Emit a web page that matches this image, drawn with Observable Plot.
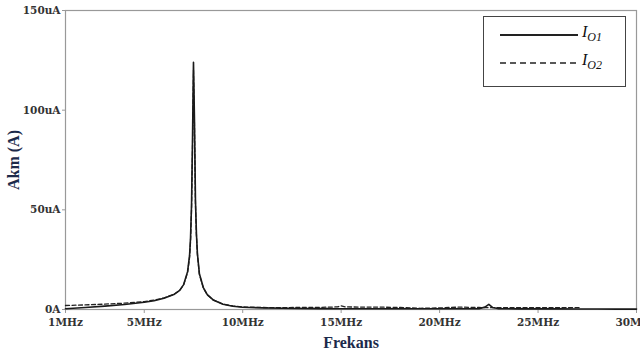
<!DOCTYPE html>
<html>
<head>
<meta charset="utf-8">
<script src="https://cdn.jsdelivr.net/npm/d3@7"></script>
<script src="https://cdn.jsdelivr.net/npm/@observablehq/plot@0.6"></script>
<style>
  body { margin: 0; background: #fff; }
  #wrap { position: relative; width: 640px; height: 354px; }
  g[aria-label="x-axis tick label"] text, g[aria-label="y-axis tick label"] text {
    font-family: "DejaVu Serif", serif; font-weight: bold; font-size: 10.5px; fill: #333;
  }
  g[aria-label="x-axis label"] text, g[aria-label="y-axis label"] text {
    font-family: "Liberation Serif", serif; font-weight: bold; font-size: 16px; fill: #1c2a4a;
  }
  #legend { position: absolute; left: 483px; top: 16px; width: 141px; height: 69px;
    border: 1.5px solid #444; background: #fff; font-family: "Liberation Serif", serif; }
  .item { position: absolute; left: 16px; display: flex; align-items: center; }
  .item span { font-style: italic; font-size: 16px; color: #111; margin-left: 4px; }
  .item sub { font-size: 12px; }
</style>
</head>
<body>
<div id="wrap"></div>
<script>
// Frequency in MHz, current in uA
const freq1 = [1, 2, 3, 4, 5, 5.5, 6, 6.5, 6.8, 7.0, 7.2, 7.3, 7.35, 7.4, 7.45, 7.5, 7.55, 7.6, 7.65, 7.7, 7.8, 8.0, 8.2, 8.5, 9, 9.5, 10, 11, 12, 13, 14, 15, 16, 17, 18, 19, 20, 21, 22, 22.3, 22.5, 22.7, 23, 24, 25, 26, 27, 28, 29, 30];
const io1   = [0.4, 1.0, 1.7, 2.5, 3.6, 4.4, 5.6, 7.5, 9.6, 12.5, 19, 27, 36, 52, 85, 124, 95, 55, 38, 28, 18, 11, 7.5, 4.8, 2.6, 1.6, 1.1, 0.8, 0.6, 0.5, 0.45, 0.4, 0.35, 0.35, 0.35, 0.35, 0.35, 0.35, 0.4, 1.2, 2.6, 1.0, 0.4, 0.3, 0.3, 0.3, 0.25, 0.25, 0.2, 0.2];
const freq2 = [1, 2, 3, 4, 5, 5.5, 6, 6.5, 6.8, 7.0, 7.2, 7.3, 7.35, 7.4, 7.45, 7.5, 7.55, 7.6, 7.65, 7.7, 7.8, 8.0, 8.2, 8.5, 9, 9.5, 10, 11, 12, 13, 14, 14.8, 15, 15.2, 16, 17, 18, 19, 20, 21, 22, 23, 24, 25, 26, 27, 27.2];
const io2   = [2.0, 2.3, 2.7, 3.2, 4.0, 4.7, 5.8, 7.6, 9.6, 12.3, 18.5, 26, 34, 50, 80, 120, 92, 53, 37, 27.5, 17.5, 10.8, 7.4, 4.8, 2.7, 1.8, 1.3, 1.0, 0.9, 1.1, 1.1, 1.3, 1.8, 1.3, 1.2, 1.2, 1.0, 0.6, 0.8, 1.2, 1.0, 0.9, 0.9, 0.9, 0.9, 0.9, 0.9];
const xTicks = [1, 5, 10, 15, 20, 25, 30];
const yTicks = [0, 50, 100, 150];
const seriesNames = ["IO1", "IO2"];

const d1 = freq1.map((f, i) => ({f, v: io1[i]}));
const d2 = freq2.map((f, i) => ({f, v: io2[i]}));

const chart = Plot.plot({
  width: 640, height: 354,
  marginLeft: 65, marginRight: 4, marginTop: 10, marginBottom: 45,
  x: {domain: [1, 30]},
  y: {domain: [0, 150]},
  marks: [
    Plot.frame({stroke: "#999", strokeWidth: 1.2}),
    Plot.axisX({ticks: xTicks, tickFormat: d => d + "MHz", tickSize: 4, stroke: "#999",
      label: "Frekans", labelAnchor: "center", labelArrow: "none", labelOffset: 38}),
    Plot.axisY({ticks: yTicks, tickFormat: d => d === 0 ? "0A" : d + "uA", tickSize: 3, tickPadding: 2, stroke: "#999",
      label: "Akm (A)", labelAnchor: "center", labelArrow: "none", labelOffset: 58}),
    Plot.line(d2, {x: "f", y: "v", stroke: "#222", strokeWidth: 1.3, strokeDasharray: "4,2.5"}),
    Plot.line(d1, {x: "f", y: "v", stroke: "#1a1a1a", strokeWidth: 1.6})
  ]
});
const wrap = document.getElementById("wrap");
wrap.appendChild(chart);

const legend = document.createElement("div");
legend.id = "legend";
legend.innerHTML = `
  <div class="item" style="top:6px"><svg width="78" height="20"><line x1="0" y1="11" x2="78" y2="11" stroke="#222" stroke-width="2"/></svg><span>I<sub>O1</sub></span></div>
  <div class="item" style="top:34px"><svg width="78" height="20"><line x1="0" y1="11" x2="78" y2="11" stroke="#222" stroke-width="1.5" stroke-dasharray="6,4"/></svg><span>I<sub>O2</sub></span></div>`;
wrap.appendChild(legend);
</script>
</body>
</html>
